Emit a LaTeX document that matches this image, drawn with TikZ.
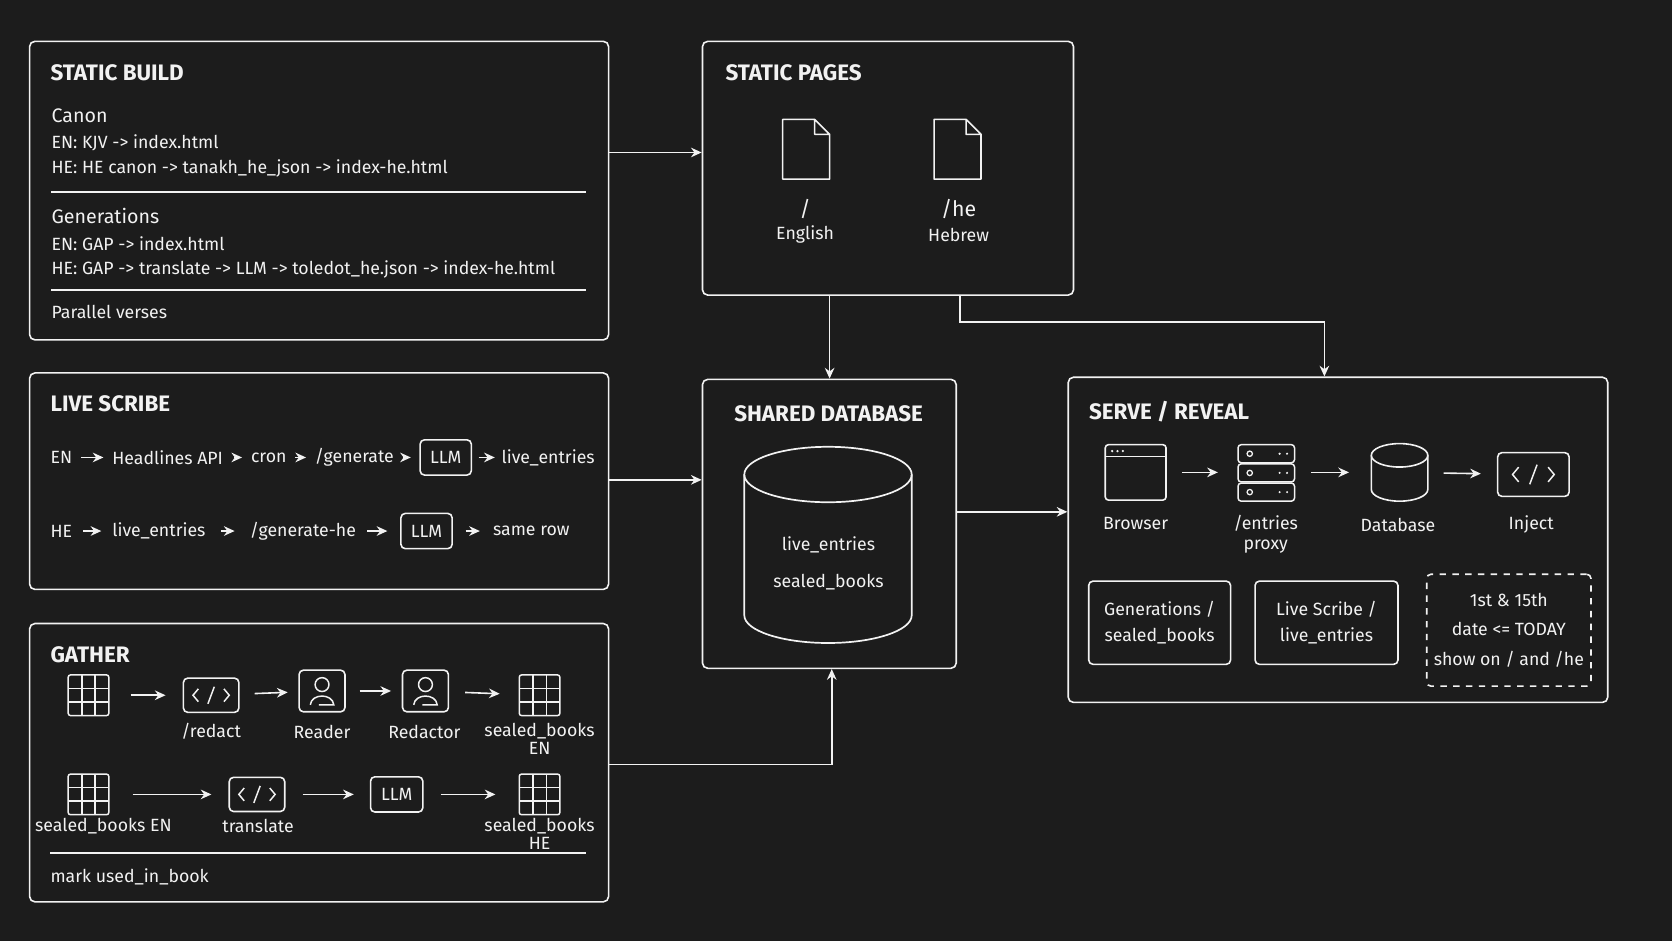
\documentclass[tikz,border=0pt]{standalone}
\usepackage{fontspec}
\setmainfont{Fira Sans}
\usetikzlibrary{arrows.meta}
\definecolor{bg}{HTML}{1C1C1C}
\definecolor{fg}{HTML}{F2F2F2}
\begin{document}
\begin{tikzpicture}[x=0.5pt,y=-0.5pt,
  every node/.style={text=fg,font=\fontsize{8.3}{9}\selectfont,inner sep=0pt},
  box/.style={draw=fg,line width=0.75pt,rounded corners=2.5pt},
  ttl/.style={anchor=west,font=\fontsize{10.5}{12}\selectfont\bfseries},
  txt/.style={anchor=west},
  arr/.style={draw=fg,line width=0.75pt,-{Stealth[length=5pt,width=4.5pt]}},
  ibox/.style={draw=fg,line width=0.75pt,rounded corners=2pt},
  rule/.style={draw=fg,line width=0.6pt},
  icgrid/.pic={\draw[fg,line width=0.7pt,rounded corners=1pt] (-19,-19) rectangle (19,19);
    \draw[fg,line width=0.7pt] (-6.3,-19)--(-6.3,19) (6.3,-19)--(6.3,19) (-19,-6.3)--(19,-6.3) (-19,6.3)--(19,6.3);},
  icdoc/.pic={\draw[fg,line width=0.75pt,line join=round] (-22,-28)--(8,-28)--(22,-14)--(22,28)--(-22,28)--cycle (8,-28)--(8,-14)--(22,-14);},
  iccode/.pic={\draw[fg,line width=0.7pt] (-12,-6)--(-17,0)--(-12,6) (12,-6)--(17,0)--(12,6) (3,-8)--(-3,8);},
  icperson/.pic={\draw[fg,line width=0.7pt] (0,-6) circle (6.5) (-11,13) .. controls (-10,2) and (10,2) .. (11,13) -- (-3,13);},
]
\fill[bg] (0,0) rectangle (1568,882);
\useasboundingbox (0,0) rectangle (1568,882);

% STATIC BUILD
\node[box,minimum width=271.5pt,minimum height=140pt,anchor=north west] (sb) at (27,38) {};
\node[ttl] at (47,68) {STATIC BUILD};
\node[txt,font=\fontsize{9.2}{10}\selectfont] at (48,109) {Canon};
\node[txt] at (48,134) {EN: KJV -> index.html};
\node[txt] at (48,158) {HE: HE canon -> tanakh\_he\_json -> index-he.html};
\draw[rule] (48,180)--(550,180);
\node[txt,font=\fontsize{9.2}{10}\selectfont] at (48,203) {Generations};
\node[txt] at (48,229) {EN: GAP -> index.html};
\node[txt] at (48,253) {HE: GAP -> translate -> LLM -> toledot\_he.json -> index-he.html};
\draw[rule] (48,272)--(550,272);
\node[txt] at (48,293) {Parallel verses};

% STATIC PAGES
\node[box,minimum width=174pt,minimum height=119pt,anchor=north west] (sp) at (658,38) {};
\node[ttl] at (680,68) {STATIC PAGES};
\pic at (756,140) {icdoc};
\pic at (898,140) {icdoc};
\node[font=\fontsize{10}{11}\selectfont] at (755,196) {/};
\node at (755,220) {English};
\node[font=\fontsize{10}{11}\selectfont] at (899,196) {/he};
\node at (899,220) {Hebrew};
\draw[arr] (sb.east |- 0,143) -- (sp.west |- 0,143);

% SHARED DATABASE
\node[box,minimum width=119pt,minimum height=135.5pt,anchor=north west] (db) at (658,355) {};
\node[font=\fontsize{10.5}{12}\selectfont\bfseries] at (777,388) {SHARED DATABASE};
\draw[fg,line width=0.8pt] (698,445) -- (698,577) arc[x radius=78.5,y radius=26,start angle=180,end angle=0] -- (855,445);
\draw[fg,line width=0.8pt] (776.5,445) ellipse[x radius=78.5,y radius=26];
\node at (777,511) {live\_entries};
\node at (777,546) {sealed\_books};
\draw[arr] (sp.south -| 778,0) -- (db.north -| 778,0);

% LIVE SCRIBE
\node[box,minimum width=271.5pt,minimum height=101.5pt,anchor=north west] (ls) at (27,349) {};
\node[ttl] at (47,379) {LIVE SCRIBE};
\node[txt] (en) at (47,429) {EN};
\node[txt] (ha) at (105,429) {Headlines API};
\node[txt] (cr) at (235,429) {cron};
\node[txt] (gen) at (295,429) {/generate};
\node[ibox,minimum width=24pt,minimum height=16.5pt] (llm1) at (418,429) {LLM};
\node[txt] (le1) at (470,429) {live\_entries};
\draw[arr,shorten <=4pt,shorten >=4pt] (en.east) -- (ha.west);
\draw[arr,shorten <=5pt,shorten >=4pt] (ha.east) -- (cr.west);
\draw[arr,shorten <=4pt,shorten >=4pt] (cr.east) -- (gen.west);
\draw[arr,shorten <=4pt,shorten >=4pt] (gen.east) -- (llm1.west);
\draw[arr,shorten <=3pt,shorten >=3pt] (llm1.east) -- (le1.west);
\node[txt] (he) at (47,498) {HE};
\node[txt] (le2) at (105,498) {live\_entries};
\node[txt] (gh) at (234,498) {/generate-he};
\node[ibox,minimum width=24pt,minimum height=16.5pt] (llm2) at (400,498) {LLM};
\node[txt] (sr) at (462,498) {same row};
\draw[arr,shorten <=5pt,shorten >=5pt] (he.east) -- (le2.west);
\draw[arr,shorten <=7pt,shorten >=7pt] (le2.east) -- (gh.west);
\draw[arr,shorten <=5pt,shorten >=6pt] (gh.east) -- (llm2.west);
\draw[arr,shorten <=6pt,shorten >=6pt] (llm2.east) -- (sr.west);
\draw[arr] (ls.east |- 0,450) -- (db.west |- 0,450);

% GATHER
\node[box,minimum width=271.5pt,minimum height=130.5pt,anchor=north west] (ga) at (27,584) {};
\node[ttl] at (47,614) {GATHER};
\node[minimum size=19pt] (g1) at (83,652) {}; \pic at (83,652) {icgrid};
\node[ibox,minimum width=26pt,minimum height=16pt] (c1) at (198,652) {}; \pic at (198,652) {iccode};
\node[ibox,minimum width=21.5pt,minimum height=19.5pt] (rd) at (302,648) {}; \pic at (302,648) {icperson};
\node[ibox,minimum width=21.5pt,minimum height=19.5pt] (rc) at (399,648) {}; \pic at (399,648) {icperson};
\node[minimum size=19pt] (g2) at (506,652) {}; \pic at (506,652) {icgrid};
\node at (198,686) {/redact};
\node at (302,686) {Reader};
\node at (398,686) {Redactor};
\node at (506,686) {sealed\_books};
\node at (506,702) {EN};
\draw[arr,shorten <=10pt,shorten >=8pt] (g1) -- (c1);
\draw[arr,shorten <=7pt,shorten >=5pt] (c1) -- (rd);
\draw[arr,shorten <=6.5pt,shorten >=5pt] (rd) -- (rc);
\draw[arr,shorten <=7.5pt,shorten >=9pt] (rc) -- (g2);
\node[minimum size=19pt] (g3) at (83,745) {}; \pic at (83,745) {icgrid};
\node[ibox,minimum width=26pt,minimum height=16pt] (c2) at (241,745) {}; \pic at (241,745) {iccode};
\node[ibox,minimum width=24.5pt,minimum height=16.5pt] (llm3) at (372,745) {LLM};
\node[minimum size=19pt] (g4) at (506,745) {}; \pic at (506,745) {icgrid};
\node at (97,775) {sealed\_books EN};
\node at (242,775) {translate};
\node at (506,775) {sealed\_books};
\node at (506,791) {HE};
\draw[arr,shorten <=11pt,shorten >=8pt] (g3) -- (c2);
\draw[arr,shorten <=8pt,shorten >=7.5pt] (c2) -- (llm3);
\draw[arr,shorten <=8pt,shorten >=11pt] (llm3) -- (g4);
\draw[rule] (47,800)--(550,800);
\node[txt] at (47,822) {mark used\_in\_book};
\draw[arr] (ga.east |- 0,717) -- (780,717) -- (db.south -| 780,0);

% SERVE / REVEAL
\node[box,minimum width=253pt,minimum height=152.5pt,anchor=north west] (sv) at (1001,353) {};
\node[ttl] at (1021,386) {SERVE / REVEAL};
\draw[arr] (db.east |- 0,480) -- (sv.west |- 0,480);
\draw[arr] (sp.south -| 900,0) -- (900,302) -- (1242,302) -- (sv.north -| 1242,0);
% browser
\node[ibox,rounded corners=1.5pt,minimum width=28.5pt,minimum height=26pt] (br) at (1065,443) {};
\draw[fg,line width=0.7pt] (1037,428)--(1094,428);
\fill[fg] (1043,423) circle (1.2) (1048,423) circle (1.2) (1053,423) circle (1.2);
% server
\node[minimum width=26.5pt,minimum height=26.5pt] (px) at (1187,443) {};
\foreach \yy in {417,435,453}{
  \draw[fg,line width=0.7pt,rounded corners=1.5pt] (1161,\yy) rectangle (1214,\yy+17);
  \draw[fg,line width=0.6pt] (1172,\yy+8.5) circle (2.5);
  \fill[fg] (1200,\yy+8.5) circle (1.1) (1207,\yy+8.5) circle (1.1);}
% database
\node[minimum width=26.5pt,minimum height=27.5pt] (dbi) at (1312,443) {};
\draw[fg,line width=0.75pt] (1286,427) -- (1286,459) arc[x radius=26.5,y radius=11,start angle=180,end angle=0] -- (1339,427);
\draw[fg,line width=0.75pt] (1312.5,427) ellipse[x radius=26.5,y radius=11];
% inject
\node[ibox,minimum width=33.5pt,minimum height=20.5pt] (inj) at (1438,445) {}; \pic[scale=1.15] at (1438,445) {iccode};
\draw[arr,shorten <=7pt,shorten >=9pt] (br) -- (px);
\draw[arr,shorten <=8pt,shorten >=10pt] (px) -- (dbi);
\draw[arr,shorten <=7.5pt,shorten >=7.5pt] (dbi) -- (inj);
\node at (1065,491) {Browser};
\node at (1187,491) {/entries};
\node at (1187,513) {proxy};
\node at (1311,492) {Database};
\node at (1436,492) {Inject};
\node[ibox,minimum width=66.5pt,minimum height=39pt,align=center,font=\fontsize{8.3}{12.5}\selectfont] (b1) at (1087.5,584) {Generations /\\sealed\_books};
\node[ibox,minimum width=67pt,minimum height=39pt,align=center,font=\fontsize{8.3}{12.5}\selectfont] (b2) at (1244,584) {Live Scribe /\\live\_entries};
\node[ibox,dashed,minimum width=77pt,minimum height=52.5pt,align=center,font=\fontsize{8.3}{14}\selectfont] (b3) at (1415,591) {1st \& 15th\\date <= TODAY\\show on / and /he};
\end{tikzpicture}
\end{document}
